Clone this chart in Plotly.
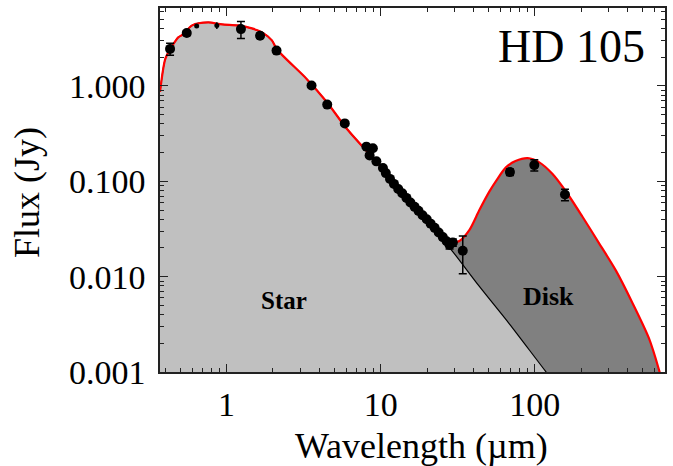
import plotly.graph_objects as go

# ---- model curves ----
star_wl = [0.37, 0.40, 0.43, 0.464, 0.486, 0.523, 0.598, 0.76, 0.935, 1.19, 1.46, 1.70, 1.97, 2.12,
           3.32, 4.47, 6.03, 10.3, 16.2, 22.9, 28.0, 43.7, 68.4, 118.5, 150.0]
star_flux = [0.866, 1.91, 2.43, 2.94, 3.24, 3.48, 4.32, 4.64, 4.42, 4.32, 4.02, 3.65, 3.01, 2.43,
             1.18, 0.68, 0.356, 0.136, 0.0594, 0.0295, 0.0202, 0.0079, 0.0032, 0.001, 0.00062]

total_wl = [0.37, 0.40, 0.43, 0.464, 0.486, 0.523, 0.598, 0.76, 0.935, 1.19, 1.46, 1.70, 1.97, 2.12,
            3.32, 4.47, 6.03, 10.3, 16.2, 22.9, 26.6, 28.7, 32.4, 37.7, 43.7, 50.7, 57.0, 65.0, 75.0,
            90.0, 107.0, 130.0, 159.0, 204.0, 261.0, 337.0, 428.0, 551.0, 640.0, 720.0]
total_flux = [0.866, 1.91, 2.43, 2.94, 3.24, 3.48, 4.32, 4.64, 4.42, 4.32, 4.02, 3.65, 3.01, 2.43,
              1.18, 0.68, 0.356, 0.136, 0.0594, 0.0302, 0.0247, 0.0228, 0.0237, 0.031, 0.05, 0.078,
              0.105, 0.14, 0.163, 0.175, 0.158, 0.12, 0.0787, 0.0425, 0.0225, 0.0115, 0.0054,
              0.00225, 0.00105, 0.0005]

baseline_flux = 1e-5

# ---- photometry / spectrum points ----
obs_wl = [0.43, 0.552, 1.24, 1.65, 2.11, 3.56, 4.5, 5.85, 8.08, 8.48, 8.9, 9.38, 10.35,
          10.8, 11.5, 12.2, 13.0, 13.8, 14.7, 15.6, 16.6, 17.6, 18.7, 19.9, 21.1, 22.4, 23.8,
          25.3, 26.8, 28.0, 29.4, 34.1, 69.0, 99.3, 157.0]
obs_flux = [2.45, 3.59, 3.95, 3.37, 2.35, 1.01, 0.638, 0.405, 0.231, 0.187, 0.222, 0.162, 0.138,
            0.122, 0.106, 0.094, 0.083, 0.075, 0.067, 0.060, 0.054, 0.049, 0.044, 0.040, 0.036,
            0.0325, 0.029, 0.026, 0.0235, 0.0215, 0.0228, 0.0187, 0.125, 0.148, 0.0727]
obs_err = [0.35, 0.2, 0.8, 0.2, 0.1, 0.03, 0.02, 0.01, 0.005, 0.005, 0.005, 0.004, 0.003,
           0, 0, 0, 0, 0, 0, 0, 0, 0, 0, 0, 0, 0, 0, 0, 0, 0.002, 0.002, 0.008, 0.01, 0.02, 0.01]

small_wl = [0.64, 0.865]
small_flux = [4.25, 4.3]
small_err = [0.15, 0.35]

x_tick_vals = [1, 10, 100]
x_tick_text = ["1", "10", "100"]
y_tick_vals = [0.001, 0.01, 0.1, 1]
y_tick_text = ["0.001", "0.010", "0.100", "1.000"]

FONT = "Liberation Serif"

fig = go.Figure()
fig.add_trace(go.Scatter(x=total_wl, y=[baseline_flux] * len(total_wl), mode="lines",
                         line=dict(width=0), hoverinfo="skip", showlegend=False))
fig.add_trace(go.Scatter(x=star_wl, y=star_flux, mode="lines", fill="tonexty",
                         fillcolor="#c0c0c0",
                         line=dict(color="black", width=1.2, shape="spline", smoothing=0.8),
                         showlegend=False))
fig.add_trace(go.Scatter(x=total_wl, y=total_flux, mode="lines", fill="tonexty",
                         fillcolor="#808080",
                         line=dict(color="#ff0000", width=2.2, shape="spline", smoothing=0.8),
                         showlegend=False))
fig.add_trace(go.Scatter(x=obs_wl, y=obs_flux, mode="markers",
                         marker=dict(color="black", size=10),
                         error_y=dict(type="data", array=obs_err, color="black",
                                      thickness=1.5, width=4),
                         showlegend=False))
fig.add_trace(go.Scatter(x=small_wl, y=small_flux, mode="markers",
                         marker=dict(color="black", size=5),
                         error_y=dict(type="data", array=small_err, color="black",
                                      thickness=1.5, width=0),
                         showlegend=False))

minor_x = [m * 10 ** e for e in range(-1, 3) for m in range(2, 10)]
minor_y = [m * 10.0 ** e for e in range(-3, 1) for m in range(2, 10)]

axis_common = dict(showline=True, linecolor="#222", linewidth=1.5, mirror="allticks",
                   ticks="inside", ticklen=8, tickwidth=1.2, tickcolor="#222",
                   showgrid=False, zeroline=False,
                   tickfont=dict(family=FONT, size=34, color="black"))

fig.update_xaxes(type="log", range=[-0.4318, 2.845], tickvals=x_tick_vals, ticktext=x_tick_text,
                 minor=dict(tickvals=minor_x, ticks="inside", ticklen=4, tickcolor="#222",
                            showgrid=False),
                 ticklabelstandoff=1, **axis_common)
fig.update_yaxes(type="log", range=[-3, 0.818], tickvals=y_tick_vals, ticktext=y_tick_text,
                 minor=dict(tickvals=minor_y, ticks="inside", ticklen=4, tickcolor="#222",
                            showgrid=False),
                 ticklabelstandoff=6, **axis_common)

fig.update_layout(
    width=673, height=466,
    margin=dict(l=160, r=7, t=6, b=94),
    plot_bgcolor="white", paper_bgcolor="white",
    showlegend=False,
    annotations=[
        dict(text="Wavelength (µm)", xref="paper", yref="paper", x=0.517, y=-0.203,
             xanchor="center", yanchor="middle", showarrow=False,
             font=dict(family=FONT, size=36, color="black")),
        dict(text="Flux (Jy)", xref="paper", yref="paper", x=-0.263, y=0.492,
             xanchor="center", yanchor="middle", textangle=-90, showarrow=False,
             font=dict(family=FONT, size=36, color="black")),
        dict(text="HD 105", xref="paper", yref="paper", x=0.815, y=0.895,
             xanchor="center", yanchor="middle", showarrow=False,
             font=dict(family=FONT, size=46, color="black")),
        dict(text="<b>Star</b>", xref="paper", yref="paper", x=0.245, y=0.197,
             xanchor="center", yanchor="middle", showarrow=False,
             font=dict(family=FONT, size=25, color="black")),
        dict(text="<b>Disk</b>", xref="paper", yref="paper", x=0.769, y=0.208,
             xanchor="center", yanchor="middle", showarrow=False,
             font=dict(family=FONT, size=26, color="black")),
    ],
)

fig.write_html("out.html")
